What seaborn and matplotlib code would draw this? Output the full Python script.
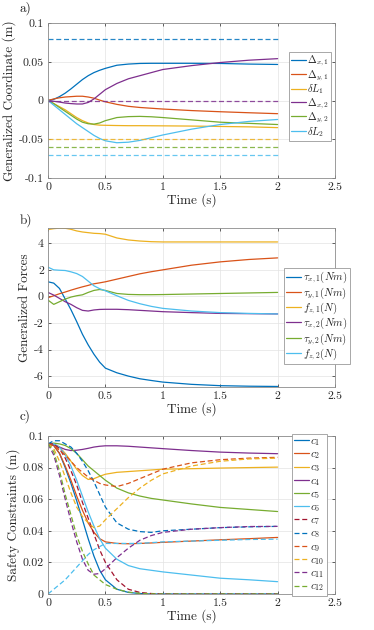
import matplotlib
matplotlib.use("Agg")
import matplotlib.pyplot as plt
import seaborn as sns
import numpy as np

sns.set_style("ticks")
plt.rcParams['font.family'] = 'serif'
plt.rcParams['font.serif'] = ['cmr10', 'DejaVu Serif']
plt.rcParams['mathtext.fontset'] = 'cm'
plt.rcParams['axes.unicode_minus'] = False

# ---- data ----
t = [0, 0.05, 0.1, 0.15, 0.2, 0.25, 0.3, 0.35, 0.4, 0.45, 0.5,
     0.6, 0.7, 0.8, 0.9, 1.0, 1.25, 1.5, 1.75, 2.0]

# panel a: generalized coordinates (m)
dx1 = [0, .0015, .005, .0095, .015, .021, .027, .032, .036, .039, .0415,
       .0455, .047, .0478, .048, .048, .048, .0478, .047, .0465]
dy1 = [0, .002, .0035, .0045, .005, .0055, .0055, .0045, .003, .0005, -.0017,
       -.005, -.0075, -.009, -.010, -.011, -.013, -.0145, -.0158, -.017]
dL1 = [0, -.004, -.008, -.012, -.017, -.022, -.026, -.029, -.031, -.0318, -.032,
       -.0323, -.0325, -.0325, -.0326, -.0327, -.033, -.0335, -.034, -.035]
dx2 = [0, -.001, -.002, -.0033, -.004, -.0045, -.0045, -.0025, .002, .008, .014,
       .022, .028, .032, .036, .040, .045, .049, .052, .054]
dy2 = [0, -.004, -.009, -.014, -.019, -.024, -.028, -.030, -.0305, -.029, -.026,
       -.022, -.0208, -.0205, -.021, -.022, -.025, -.028, -.0295, -.031]
dL2 = [0, -.006, -.012, -.018, -.024, -.030, -.035, -.040, -.045, -.049, -.052,
       -.0545, -.0538, -.0515, -.048, -.0445, -.037, -.031, -.027, -.0245]
bounds_a = [0.08, 0.0, -0.05, -0.06, -0.07]
labels_a = [r'$\Delta_{x,1}$', r'$\Delta_{y,1}$', r'$\delta L_1$',
            r'$\Delta_{x,2}$', r'$\Delta_{y,2}$', r'$\delta L_2$']

# panel b: generalized forces
tx1 = [1.1, 1.0, 0.6, -0.2, -1.0, -1.9, -2.85, -3.65, -4.35, -4.95, -5.4,
       -5.75, -6.0, -6.2, -6.33, -6.45, -6.62, -6.72, -6.76, -6.78]
ty1 = [-0.1, 0.05, 0.2, 0.33, 0.47, 0.6, 0.72, 0.83, 0.95, 1.02, 1.1,
       1.3, 1.5, 1.7, 1.86, 2.0, 2.35, 2.6, 2.78, 2.9]
fz1 = [5.03, 5.1, 5.14, 5.13, 5.05, 4.93, 4.85, 4.8, 4.75, 4.73, 4.68,
       4.4, 4.25, 4.17, 4.12, 4.1, 4.1, 4.1, 4.1, 4.1]
tx2 = [0.3, 0.1, -0.15, -0.4, -0.6, -0.85, -1.05, -1.1, -1.02, -0.98, -0.97,
       -0.97, -1.0, -1.05, -1.1, -1.15, -1.22, -1.28, -1.3, -1.32]
ty2 = [-0.28, -0.6, -0.4, -0.2, -0.05, 0.05, 0.12, 0.3, 0.45, 0.52, 0.45,
       0.22, 0.15, 0.13, 0.13, 0.14, 0.18, 0.22, 0.26, 0.3]
fz2 = [2.2, 2.0, 1.97, 1.95, 1.85, 1.72, 1.5, 1.15, 0.8, 0.58, 0.42,
       0.05, -0.3, -0.55, -0.75, -0.9, -1.1, -1.22, -1.28, -1.32]
labels_b = [r'$\tau_{x,1}(Nm)$', r'$\tau_{y,1}(Nm)$', r'$f_{z,1}(N)$',
            r'$\tau_{x,2}(Nm)$', r'$\tau_{y,2}(Nm)$', r'$f_{z,2}(N)$']

# panel c: safety constraints (m)
c1 = [.095, .094, .089, .08, .07, .059, .047, .035, .024, .015, .009,
      .003, .001, .0003, 0, 0, 0, 0, 0, 0]
c2 = [.095, .094, .089, .081, .072, .062, .053, .045, .039, .035, .033,
      .032, .0318, .032, .0323, .0327, .0335, .0343, .035, .0358]
c3 = [.095, .095, .093, .089, .084, .079, .075, .0725, .073, .0745, .0758,
      .077, .0775, .078, .0785, .079, .0793, .0797, .080, .0803]
c4 = [.095, .0945, .093, .0915, .0908, .091, .0915, .0922, .093, .0935, .0938,
      .0938, .0935, .093, .0925, .092, .0908, .0898, .0892, .0888]
c5 = [.095, .0955, .095, .094, .092, .089, .085, .081, .078, .075, .072,
      .067, .064, .062, .0605, .0595, .057, .0548, .0535, .0522]
c6 = [.095, .095, .093, .088, .081, .072, .062, .052, .043, .035, .029,
      .022, .018, .016, .015, .014, .012, .010, .009, .0078]
c7 = [.095, .095, .092, .086, .078, .069, .058, .048, .038, .028, .02,
      .009, .003, .001, .0003, 0, 0, 0, 0, 0]
c8 = [.095, .097, .097, .095, .093, .089, .084, .078, .071, .063, .055,
      .045, .041, .0395, .039, .040, .041, .042, .0425, .0428]
c9 = [.095, .094, .091, .088, .084, .08, .077, .074, .072, .07, .069,
      .068, .07, .073, .076, .079, .083, .085, .086, .0865]
c10 = [.095, .092, .084, .074, .064, .055, .049, .045, .042, .043, .047,
       .054, .061, .067, .072, .076, .081, .084, .0855, .086]
c11 = [.095, .088, .075, .06, .046, .033, .022, .015, .0125, .013, .016,
       .023, .029, .034, .037, .039, .041, .042, .0427, .0428]
c12 = [.095, .09, .078, .063, .05, .037, .027, .019, .012, .009, .006,
       .003, .0012, .0004, .0001, 0, 0, 0, 0, 0]
c13 = [0, .003, .006, .009, .013, .017, .021, .025, .028, .030, .032,
       .032, .032, .032, .0325, .033, .0335, .034, .0345, .0347]
labels_c = [r'$c_{%d}$' % i for i in range(1, 13)]

# MATLAB default colour order
mc = ['#0072BD', '#D95319', '#EDB120', '#7E2F8E', '#77AC30', '#4DBEEE', '#A2142F']
bound_colors = [mc[0], mc[3], mc[2], mc[4], mc[5]]

W, H = 374, 630
fig = plt.figure(figsize=(W / 100, H / 100), dpi=100)

def make_ax(top, bottom):
    return fig.add_axes([48 / W, 1 - bottom / H, 287 / W, (bottom - top) / H])

ax_a = make_ax(23, 178)
ax_b = make_ax(228, 387)
ax_c = make_ax(436, 594)

LW = 0.9
DASH = (0, (4, 2.2))

def style_ax(ax, yticks, yticklabels, ylim, ylabel):
    ax.set_xlim(0, 2.5)
    ax.set_ylim(*ylim)
    ax.set_xticks([0, 0.5, 1, 1.5, 2, 2.5])
    ax.set_xticklabels(['0', '0.5', '1', '1.5', '2', '2.5'])
    ax.set_yticks(yticks)
    ax.set_yticklabels(yticklabels)
    ax.grid(True, color='#e3e3e3', lw=0.5)
    ax.set_axisbelow(True)
    ax.tick_params(direction='in', length=2.5, width=0.5, top=True, right=True,
                   labelsize=8.5, colors='#262626', pad=3)
    for s in ax.spines.values():
        s.set_color('#8c8c8c')
        s.set_linewidth(0.6)
    ax.set_xlabel('Time (s)', fontsize=9.5, labelpad=1)
    ax.set_ylabel(ylabel, fontsize=9.5, labelpad=2)

def legend(ax, x0, y0, fs, spacing, hl):
    h, l = ax.get_legend_handles_labels()
    keep = [(a, b) for a, b in zip(h, l) if not b.startswith('_')]
    lg = ax.legend([k[0] for k in keep], [k[1] for k in keep],
                   loc='upper left', bbox_to_anchor=(x0 / W, 1 - y0 / H),
                   bbox_transform=fig.transFigure, fontsize=fs,
                   frameon=True, fancybox=False, framealpha=1,
                   borderpad=0.2, labelspacing=spacing, handlelength=hl,
                   handletextpad=0.15, borderaxespad=0)
    lg.get_frame().set_edgecolor('#9a9a9a')
    lg.get_frame().set_linewidth(0.6)

# ---- panel a ----
for vals, col, lab in zip([dx1, dy1, dL1, dx2, dy2, dL2], mc, labels_a):
    sns.lineplot(x=t, y=vals, ax=ax_a, color=col, lw=LW, label=lab)
for b, col in zip(bounds_a, bound_colors):
    sns.lineplot(x=[t[0], t[-1]], y=[b, b], ax=ax_a, color=col, lw=LW,
                 linestyle=DASH, alpha=0.85, label='_nolegend_')
style_ax(ax_a, [-0.1, -0.05, 0, 0.05, 0.1], ['-0.1', '-0.05', '0', '0.05', '0.1'],
         (-0.1, 0.1), 'Generalized Coordinate (m)')
legend(ax_a, 289, 52, 7.5, 0.0, 1.4)

# ---- panel b ----
for vals, col, lab in zip([tx1, ty1, fz1, tx2, ty2, fz2], mc, labels_b):
    sns.lineplot(x=t, y=vals, ax=ax_b, color=col, lw=LW, label=lab)
style_ax(ax_b, [-6, -4, -2, 0, 2, 4], ['-6', '-4', '-2', '0', '2', '4'],
         (-6.82, 5.15), 'Generalized Forces')
legend(ax_b, 284, 268, 7.8, 0.0, 1.4)

# ---- panel c ----
series_c = [c1, c2, c3, c4, c5, c6, c7, c8, c9, c10, c11, c12]
colors_c = mc[:6] + [mc[6], mc[0], mc[1], mc[2], mc[3], mc[4]]
for i, (vals, col, lab) in enumerate(zip(series_c, colors_c, labels_c)):
    ls = '-' if i < 6 else DASH
    sns.lineplot(x=t, y=vals, ax=ax_c, color=col, lw=LW, linestyle=ls, label=lab)
sns.lineplot(x=t, y=c13, ax=ax_c, color=mc[5], lw=LW, linestyle=DASH,
             label='_nolegend_')
style_ax(ax_c, [0, 0.02, 0.04, 0.06, 0.08, 0.1],
         ['0', '0.02', '0.04', '0.06', '0.08', '0.1'],
         (0, 0.1), 'Safety Constraints (m)')
legend(ax_c, 292, 434, 8, 0.14, 1.3)

for txt, y in [('a)', 8), ('b)', 220), ('c)', 416)]:
    fig.text(20 / W, 1 - y / H, txt, fontsize=9.5, fontweight='bold',
             va='center', ha='left')

fig.savefig('out.png', dpi=100)
